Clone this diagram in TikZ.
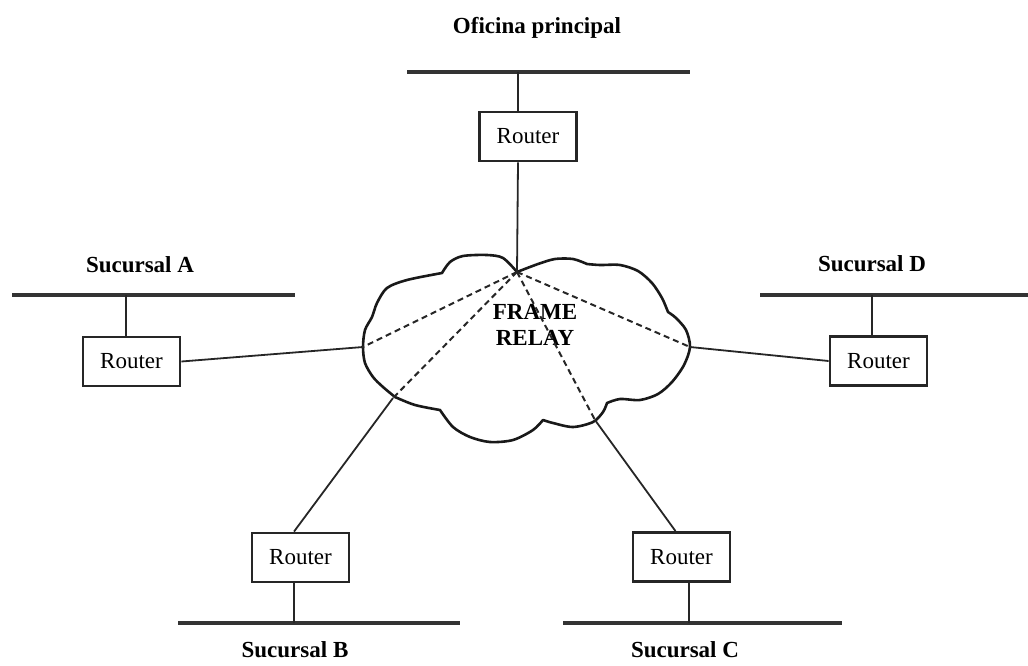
\documentclass[tikz,border=0pt]{standalone}
\usepackage{fontspec}
\setmainfont{Liberation Serif}
\usepackage{tikz}

\begin{document}
\begin{tikzpicture}[
  x=1pt, y=-1pt,
  router/.style={draw=black!85, line width=2.8pt, fill=white, minimum width=97pt, minimum height=49pt, inner sep=0pt, font=\fontsize{23}{26}\selectfont},
  site/.style={inner sep=0pt, align=center, font=\fontsize{23}{26}\selectfont\bfseries},
  bus/.style={draw=black!80, line width=3.2pt},
  tap/.style={draw=black!85, line width=2.8pt},
  link/.style={draw=black!85, line width=1.8pt},
  pvc/.style={draw=black!85, line width=2pt, dash pattern=on 6pt off 4pt},
  frame/.style={draw=black!90, line width=2.6pt, line join=round}
]
\useasboundingbox (0,0) rectangle (1028,665);

% frame relay cloud
\draw[frame] plot[smooth] coordinates {(517,272) (503,258) (487,255) (463,256) (450,262) (442,273)}
  -- plot[smooth] coordinates {(442,273) (407,280) (387,288) (377,303) (372,317) (365,330) (363,347) (365,363) (373,377) (383,387) (395,397)}
  -- plot[smooth] coordinates {(395,397) (415,405) (440,410)}
  -- plot[smooth] coordinates {(440,410) (453,427) (470,437) (490,442) (513,440) (533,430) (543,420)}
  -- plot[smooth] coordinates {(543,420) (553,423) (573,427) (593,422) (603,412) (607,403)}
  -- plot[smooth] coordinates {(607,403) (620,399) (640,400) (658,394) (672,382) (684,365) (690,347) (686,330) (676,318) (668,312)}
  -- plot[smooth] coordinates {(668,312) (662,298) (652,283) (638,271) (620,265) (600,265) (587,264)}
  -- plot[smooth] coordinates {(587,264) (573,259) (555,259) (538,264) (517,272)};
\coordinate (hub) at (517,272);
\coordinate (cA) at (363,347);
\coordinate (cB) at (393,398);
\coordinate (cC) at (595,420);
\coordinate (cD) at (690,347);
\node[site] (fr) at (535,325) {FRAME\\RELAY};

\foreach \c in {cA,cB,cC,cD}
  \draw[pvc] (hub) -- (\c);

% routers
\node[router] (ro) at (528,136.5) {Router};
\node[router] (ra) at (131.5,361.5) {Router};
\node[router] (rd) at (878.5,361) {Router};
\node[router] (rb) at (300.5,557.5) {Router};
\node[router] (rc) at (681.5,557) {Router};

% LAN segments
\coordinate (tapO) at (518,72);
\coordinate (tapA) at (126,295);
\coordinate (tapD) at (872,295);
\coordinate (tapB) at (294,623);
\coordinate (tapC) at (689,623);
\draw[bus] (407,72) -- (tapO) -- (690,72);
\draw[bus] (12,295) -- (tapA) -- (295,295);
\draw[bus] (760,295) -- (tapD) -- (1028,295);
\draw[bus] (178,623) -- (tapB) -- (460,623);
\draw[bus] (563,623) -- (tapC) -- (842,623);

\draw[tap] (tapO) -- (tapO |- ro.north);
\draw[tap] (tapA) -- (tapA |- ra.north);
\draw[tap] (tapD) -- (tapD |- rd.north);
\draw[tap] (tapB) -- (tapB |- rb.south);
\draw[tap] (tapC) -- (tapC |- rc.south);

\draw[link] (tapO |- ro.south) -- (hub);
\draw[link] (ra.east) -- (cA);
\draw[link] (cD) -- (rd.west);
\draw[link] (cB) -- (tapB |- rb.north);
\draw[link] (cC) -- ([xshift=-6pt]rc.north);

\node[site] (lblO) at (537,28) {Oficina principal};
\node[site] (lblA) at (140,265) {Sucursal A};
\node[site] (lblD) at (872,264) {Sucursal D};
\node[site] (lblB) at (295,650) {Sucursal B};
\node[site] (lblC) at (685,650) {Sucursal C};
\end{tikzpicture}
\end{document}
